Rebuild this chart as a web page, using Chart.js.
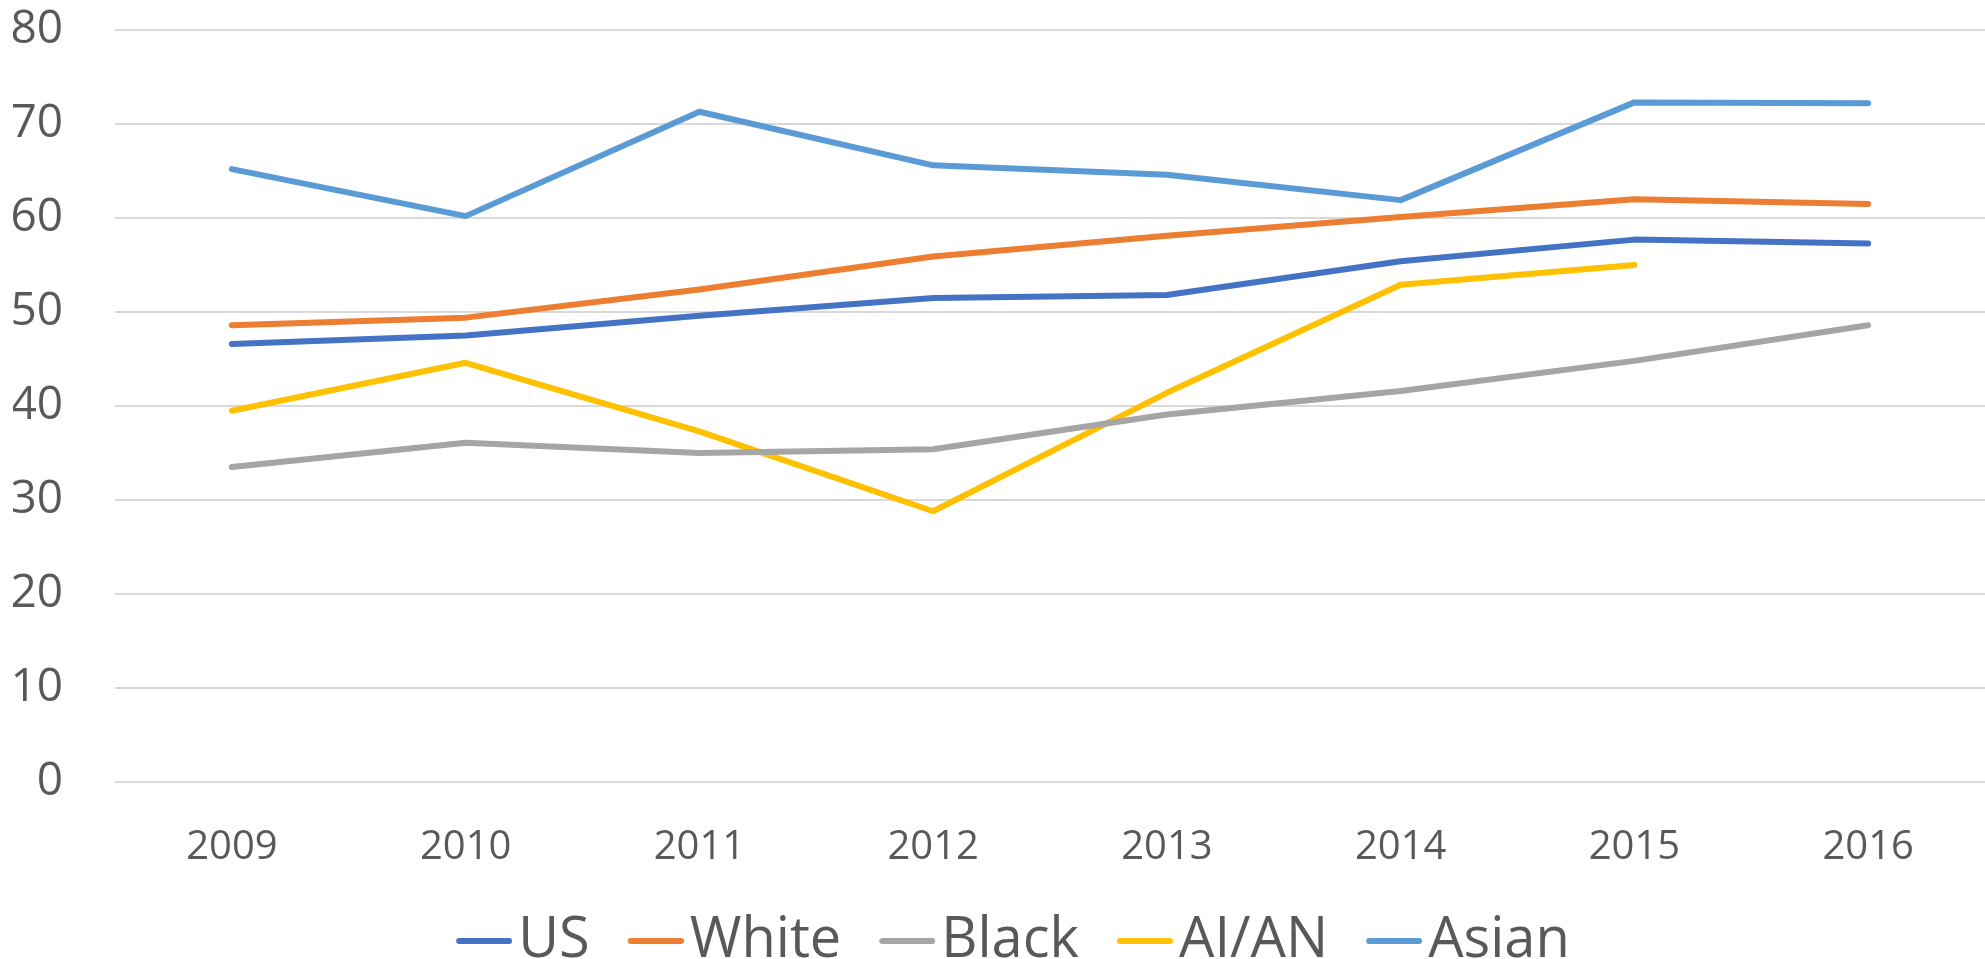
<!DOCTYPE html>
<html>
<head>
<meta charset="utf-8">
<script src="https://cdn.jsdelivr.net/npm/chart.js@4"></script>
<style>
  html, body { margin: 0; padding: 0; background: #fff; }
  #wrap { width: 1985px; height: 959px; }
</style>
</head>
<body>
<div id="wrap"><canvas id="rateChart" width="1985" height="959"></canvas></div>
<script>
// 연도
const years = ['2009', '2010', '2011', '2012', '2013', '2014', '2015', '2016'];

// series
const usData    = [46.6, 47.5, 49.6, 51.5, 51.8, 55.4, 57.7, 57.3];
const whiteData = [48.6, 49.4, 52.4, 55.9, 58.1, 60.1, 62.0, 61.5];
const blackData = [33.5, 36.1, 35.0, 35.4, 39.1, 41.6, 44.8, 48.6];
const aianData  = [39.5, 44.6, 37.3, 28.8, 41.4, 52.9, 55.0, null];
const asianData = [65.2, 60.2, 71.3, 65.6, 64.6, 61.9, 72.3, 72.2];

const seriesNames = ['US', 'White', 'Black', 'AI/AN', 'Asian'];
const colors = ['#4472C4', '#ED7D31', '#A5A5A5', '#FFC000', '#5B9BD5'];

// legend swatch (line, shifted right so the text sits close to it)
function swatch(color) {
  const c = document.createElement('canvas');
  c.width = 76; c.height = 8;
  const g = c.getContext('2d');
  g.strokeStyle = color;
  g.lineWidth = 6;
  g.lineCap = 'round';
  g.beginPath();
  g.moveTo(23, 4);
  g.lineTo(73, 4);
  g.stroke();
  return c;
}

function makeSet(i, data) {
  return {
    label: seriesNames[i],
    data: data,
    borderColor: colors[i],
    backgroundColor: colors[i],
    borderWidth: 6,
    borderCapStyle: 'round',
    borderJoinStyle: 'round',
    pointRadius: 0,
    pointHoverRadius: 0,
    pointStyle: swatch(colors[i]),
    tension: 0,
    spanGaps: false
  };
}

// nudge the legend row a little to the right
const legendNudge = {
  id: 'legendNudge',
  afterLayout(chart) {
    if (chart.legend) chart.legend.left += 24;
  }
};

const ctx = document.getElementById('rateChart');
const rateChart = new Chart(ctx, {
  type: 'line',
  data: {
    labels: years,
    datasets: [
      makeSet(0, usData),
      makeSet(1, whiteData),
      makeSet(2, blackData),
      makeSet(3, aianData),
      makeSet(4, asianData)
    ]
  },
  plugins: [legendNudge],
  options: {
    responsive: false,
    animation: false,
    layout: {
      padding: { left: 13, right: -6, top: 30, bottom: -20 }
    },
    plugins: {
      title: { display: false },
      tooltip: { enabled: false },
      legend: {
        display: true,
        position: 'bottom',
        labels: {
          color: '#595959',
          font: { family: 'Open Sans', size: 56 },
          usePointStyle: true,
          pointStyleWidth: 32,
          padding: 40
        }
      }
    },
    scales: {
      x: {
        offset: true,
        grid: { display: false, drawTicks: false },
        border: { display: false },
        ticks: {
          color: '#595959',
          font: { family: 'Open Sans', size: 40 },
          padding: 42
        },
        afterFit: function(scale) {
          scale.height = 91;
        }
      },
      y: {
        min: 0,
        max: 80,
        border: { display: false },
        grid: {
          color: '#d9d9d9',
          lineWidth: 2,
          drawTicks: false
        },
        ticks: {
          stepSize: 10,
          color: '#595959',
          font: { family: 'Open Sans', size: 46 },
          padding: 52
        },
        afterFit: function(scale) {
          scale.width = 102;
          scale.paddingTop = 26;
          scale.paddingBottom = 26;
        }
      }
    }
  }
});
</script>
</body>
</html>
